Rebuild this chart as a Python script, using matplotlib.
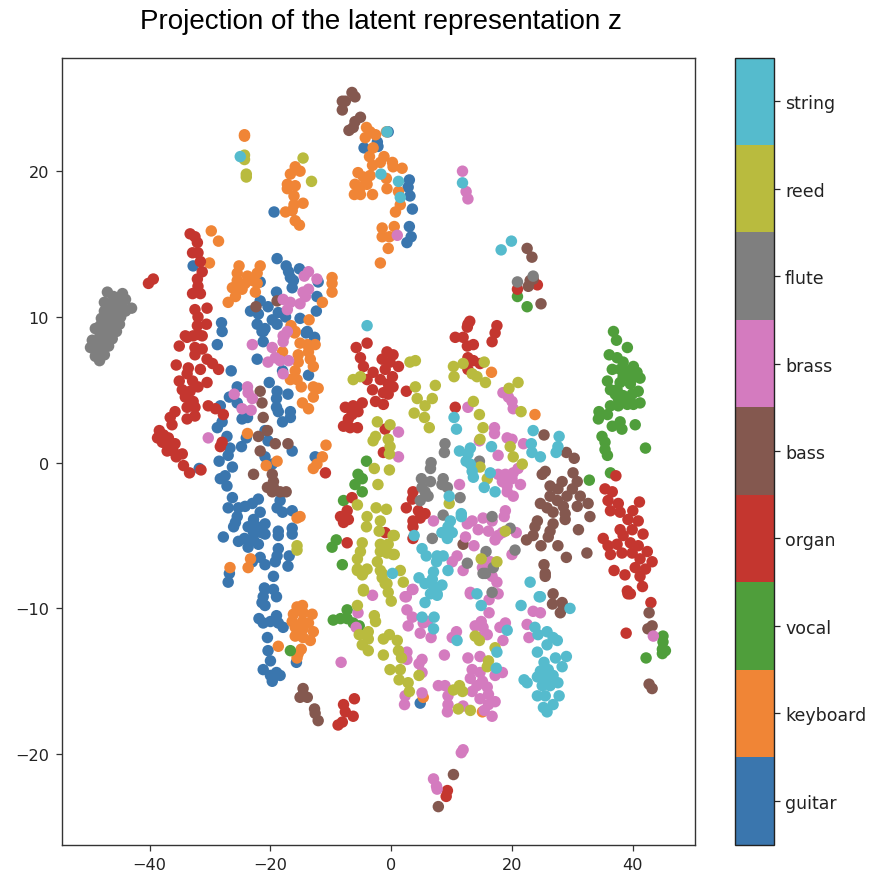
import numpy as np
import matplotlib
matplotlib.use("Agg")
import matplotlib.pyplot as plt
from matplotlib.colors import ListedColormap

instruments = ["guitar", "keyboard", "vocal", "organ", "bass", "brass", "flute", "reed", "string"]
palette = ["#3a76ae", "#f08536", "#4f9e3b", "#c4362f", "#84584f", "#d47bbf", "#7f7f7f", "#b9bb3e", "#55bbcd"]

guitar = [(-19.4,17.2),(-32.8,13.5),(-18.9,14),(-17.4,13.5),(-17,13.1),(-15.2,13.3),(-16.7,12.7),(-16.2,12.5),(-16.4,12),(-21.7,12.4),(-12.1,12.4),(-19,11.7),(-12.3,11.4),(-21.7,11.1),(-20.4,10.7),(-23.3,10.4),(-22,10.2),(-18.7,10.3),(-12.4,10.4),(-19.7,9.8),(-17.5,10),(-15.1,9.9),(-28.1,9.6),(-28,9),(-22.2,9.5),(-18.9,9.5),(-20.9,9.2),(-21.4,9),(-13.9,9),(-12.7,8.6),
(-4.5,21.6),(-2.3,22),(-2.2,21.7),(-0.5,22.7),(3,19.4),(2.8,18.9),(3.1,18.3),(3.5,17.4),(3,16.2),(3.3,15.5),(2.6,15.1),
(-28.8,8.1),(-21.2,9),(-21.2,8.3),(-14.1,8.9),(-12.7,8.5),(-22.2,7.1),(-18,6.3),(-13.7,6),(-26.5,6.3),(-20.2,5.5),(-25.5,5.2),(-18.9,4.9),(-17.1,4.7),(-26.8,4.5),(-19,4.4),(-25.5,4.1),(-28.3,3.9),(-19,3.8),(-18.7,3.5),(-16.7,3.5),(-16.7,3.1),(-18,2.8),(-24.7,3),(-23.8,3.1),(-28,2.8),(-28.8,2.4),(-20.9,2.2),(-27.2,1.8),(-24,1.7),(-20.4,1.5),(-26.7,1),(-24.8,1.1),(-27,0.5),(-16.4,0.8),(-20.9,0.4),(-28.5,0.1),(-19.7,-0.1),(-26.3,-0.3),(-12.6,0.4),(-31.8,-0.4),(-27.5,-0.9),(-28.3,-1.1),(-27.2,-1.6),(-26.3,-2.4),(-22,-2.5),(-23,-2.8),(-18.4,-2.6),(-18.9,-3.1),(-27,-3.1),(-25.3,-3.1),(-24.2,-3),(-18,-3.4),(-16.4,-3.3),(-21.7,-3.4),(-25.5,-3.7),(-25.8,-4.1),(-22.8,-3.9),(-26.1,-4.4),(-20.9,-4.2),(-23.7,-4.4),(-22.2,-4.4),(-16.4,-4.5),(-18.7,-4.7),(-22.8,-4.8),(-21.5,-4.8),(-20.9,-4.9),(-16.4,-4.9),(-18.7,-5),(-27.8,-5.1),(-25.3,-5.4),(-24.3,-5.2),(-22.8,-5.3),(-23.7,-5.8),(-22,-5.6),(-18.7,-5.9),(-18.9,-6.4),(-21.7,-6.5),(-16.9,-6.4),(-23,-6.8),(-19.2,-6.8),(-20.9,-7),(-17.1,-7.1),(-26.8,-7.6),(-19.5,-7.8),(-27,-8.2),
(-21,-8.6),(-20.9,-8.7),(-19.5,-8.7),(-19,-9.2),(-21.2,-9.2),(-21.4,-9.6),(-20.9,-9.8),(-21.9,-10.7),(-19,-10.5),(-21.2,-11),(-20,-10.9),(-18.7,-11),(-17.9,-11.3),(-20.5,-12),(-20.4,-12.9),(-20,-13.6),(-15.7,-13.7),(-21.2,-14.2),(-19,-14.4),(-20,-14.6),(-18.4,-14.6),(-19.7,-15),(4.8,-16.5)]

keyboard = [(-24.3,22.5),(-24.3,22.4),(-15.9,20.3),(-15.1,20),(-16.7,19.8),(-17.2,19.1),(-15.9,19),(-17.2,18.8),(-16.1,18.3),(-14.6,17.8),(-16.1,17.7),(-16.4,17.3),(-17.5,17.2),(-15.9,16.6),(-15.2,16.3),
(-4.1,23),(-3.5,22.7),(-4.3,22.3),(-2.6,22.5),(-0.8,22.7),(-3,21.6),(-3.6,21),(-1.2,21),(-3.1,20.4),(-1.8,20.6),(0.2,20.6),(0.3,20.3),(1.8,20.2),(-5.5,19.9),(-3.5,19.7),(-4.6,19.6),(-6,19.1),(-4,19.1),(-5.1,18.9),(-0.8,19.5),(-0.7,18.8),(-6.1,18.4),(-5.1,18.4),(-3.1,18.4),(1.2,18.6),(1.5,17.7),(0.7,17.2),(0.5,16.2),(-1.5,16.1),(-1.5,15.5),(-0.3,15.5),(-0.5,14.7),(-1.8,13.7),
(-29.8,15.9),(-28.6,15.2),(-30.1,13.7),(-25.2,13.5),(-21.7,13.5),(-25.5,13),(-22.2,13),(-23.8,12.8),(-23,12.5),(-25.5,12.5),(-24.2,12.3),(-22.2,12.3),(-26.3,12),(-24.7,11.9),(-22.5,11.7),(-25.8,11.4),(-27,11),(-9.8,12.7),(-9.8,12.3),(-9.8,11.7),(-11.4,11),(-13.6,9.8),(-16.6,9.4),(-15.9,9),
(-16,8.9),(-15.1,8.2),(-13.9,8.1),(-12.6,8.1),(-18,7.6),(-15.4,7.4),(-13.7,7.6),(-13.4,7.1),(-15.4,6.9),(-12.9,6.6),(-15.9,6.3),(-16.7,5.7),(-15.6,5.7),(-14.9,5.2),(-12.9,5.2),(-12.1,5.1),(-12.9,4.5),(-14.7,4.1),(-13.7,3.7),(-10.8,1.2),(-11.4,0.4),(-12.3,-0.1),(-12.9,-0.4),(-23.8,2),(-18.9,0.1),(-20.7,-0.2),(-15.1,-3.7),(-15.6,-3.8),(-26.7,-7.2),(-23.7,-7.2),(-23.3,-6.6),
(16.6,6.2),(23.8,3.3),
(-14.7,-9.8),(-15.6,-9.9),(-13.1,-10.4),(-16.2,-10.4),(-14.6,-10.3),(-16.4,-10.9),(-14.7,-10.9),(-13.7,-11),(-15.9,-11.3),(-14.6,-11.4),(-12.9,-11.6),(-15.9,-11.9),(-14.6,-12),(-13.4,-12.2),(-18.7,-12.6),(-14.9,-12.8),(-15.4,-13.1),(-15.6,-13.4),(5.3,-16.1),(15.1,-17.1)]

vocal = [(36.8,9),(37.3,8.4),(39.1,7.9),(36.1,7.4),(37.4,7.2),(38.4,6.9),(36.6,6.4),(37.9,6.4),(40.1,6.6),(39.2,6.3),(40.7,6.2),(38.4,5.9),(39.9,5.8),(41.2,5.8),(35.8,5.6),(37.9,5.5),(39.6,5.4),(36.3,5),(37.4,5),(40.9,4.9),(37.1,4.7),(38.4,4.6),(39.9,4.7),(37.6,4.4),(39.2,4.4),(41.2,4.1),(36.3,3.9),(37.6,3.9),(39.1,4),(40.1,4),
(34.4,3.5),(35.8,3.3),(34.3,3),(37.9,2.8),(36.6,2.5),(38.2,2.3),(40.4,2.6),(34.9,1.8),(35.4,1.4),(35.4,0.9),(35.8,0.5),(42.1,1),(36.3,-0.7),(32.8,-1.2),
(-4.1,0.1),(-5.5,-0.8),(-4.8,-1.1),(-6,-1.5),(-4.8,-2),(-7.9,-2.6),(-9.1,-5.3),(-9.8,-5.8),(-8.1,-7),
(-9.6,-10.8),(-8.4,-10.7),(-7.3,-10.1),(-7.3,-10.7),(-6.3,-11),(-5.3,-11.2),(-16.7,-12.9),
(45,-11.9),(45,-12.3),(44.9,-12.8),(45.4,-12.9),(44.9,-13.1),(42.2,-13.4),(20.9,11.4),(22.5,10.7)]

organ = [(-33.3,15.7),(-32.5,15.5),(-32.1,15.1),(-32.9,14.4),(-32,14.4),(-31.6,13.8),(-31.3,13.1),(-32.1,12.6),(-32,12.1),(-32.9,11.6),(-31.6,11.6),(-32.5,10.5),(-30.5,10.6),(-32,10),(-32.1,9.4),(-30.6,9.5),(-34.1,8.7),(-31.3,8.7),(-32.8,8.7),(-40.2,12.3),(-39.4,12.6),
(-32,8.8),(-33.8,8.6),(-35.1,8),(-32.5,7.9),(-31.3,7.8),(-32.5,7.4),(-30.5,7.1),(-29.6,6.8),(-28.6,6.4),(-35.6,6.7),(-33.6,6.5),(-31.6,6.4),(-33.8,6.1),(-35.1,5.6),(-32.9,5.6),(-30.5,5.5),(-32,5.2),(-34.6,5),(-33.3,4.9),(-34.1,4.5),(-32.8,4.2),(-33.8,3.8),(-32.5,3.8),(-30.3,3.9),(-29.1,3.7),(-35.8,3.5),(-36.6,3.1),(-33.8,3),(-32.5,3.2),(-36.3,2.6),(-27.8,3.3),(-28,1.4),(-28.3,1.1),
(-38.4,2.2),(-38.7,1.7),(-37.7,1.9),(-36.9,1.7),(-37.9,1.4),(-36.6,1.3),(-35.8,1.3),(-37.1,0.8),(-36.1,0.8),(-34.6,0.6),(-35.6,0.4),(-34.4,-0.2),(-33.4,-0.7),(-31.5,-0.5),
(-5.8,7.9),(-4,8.2),(-5.1,7.2),(-4.6,6.6),(-4,5.7),(-0.7,7.6),(0.3,7.4),(-1.5,7.1),(-0.2,6.9),(1.2,6.6),(-1,6.4),(-3,6.2),(-1.8,5.7),(0.2,5.9),(-0.5,5.4),(-3.1,5),(-1.3,4.8),(0.3,5.2),(-0.5,4.7),(-2.6,4.2),(-1.3,4),(-7.6,3.8),(-6.3,3.9),(-4.8,4.1),(-6.5,3.3),(-5.5,3.5),(-7.1,3),(-7.9,2.5),(-6.8,2.4),(-5.6,2.4),
(-1,2.3),(-1.3,0.7),(-10.9,-0.7),(-6.5,-2.4),(-7.3,-3.3),(-8.4,-3.7),(-7.1,-3.9),(-7.9,-4.1),(-7.3,-5.5),(-1,-4.8),
(12.7,9.5),(13,9.7),(12.6,9.3),(17.5,9.4),(17.2,8.9),(16.7,8.3),(10.6,8.6),(11.9,8.6),(13.6,8.1),(12.6,8),(12.7,7.2),(13.6,7),(14.7,6.8),(12.7,6.4),
(2.5,4.9),(10.6,3.8),(3.6,-2),(3.5,-2.5),(2.5,-3.1),(4.5,-3.3),(5.6,-3.5),(3.6,-4),(4.8,-3.8),(3.6,-4.4),(3.6,-5.2),
(37.2,-0.9),(35.4,-1.8),(36.6,-2),(35.9,-2.6),(37.6,-2.8),(41.1,-2.7),(36.3,-3.3),(37.9,-3.4),(40,-3.3),(39.2,-3.9),(40.9,-4),(37.9,-4.6),(39.9,-4.6),(41.7,-4.9),(35.1,-5.2),(38.4,-5),(35.9,-5.7),(37.4,-5.6),(39.6,-5.5),(40.9,-5.7),(36.3,-6.3),(38.2,-6.2),(39.9,-6.2),(42.4,-6.1),(41.2,-6.6),(43.2,-6.8),(40.4,-7.2),(42.1,-7.3),(36.9,-7.4),(38.7,-7.7),(41.2,-7.8),(41.6,-8.5),(39.1,-8.8),(39.6,-9),
(43,-9.6),(38.9,-11.7),(39.2,-9),(-6.1,-16.2),(-7.9,-16.6),(-7.6,-17.1),(-6.3,-17.4),(-8.1,-17.8),(-8.8,-18),(9.3,-22.5),(9.1,-22.9),(20.9,11.9),(24.2,12.2)]

bass = [(-6.5,25.4),(-6,25.1),(-8.1,24.8),(-7.6,24.8),(-8.1,24.2),(-5.1,23.7),(-6,23.4),(-7,22.8),(-6.3,23),(-18.9,11.1),(-22.4,10.7),
(-21.7,4.9),(-21.4,4.1),(-21.2,3.1),(-20.5,2.2),(-22,1.8),(-19.2,1.3),(-17.1,1.3),(-21.7,0.8),(-22.8,-0.8),(-19.7,-0.8),(-19.5,-1.3),(-20.5,-1.7),(-19.5,-1.7),(-19.7,-2),(-18.4,-2),(-17.4,-2),
(-14.6,-15.5),(-15.1,-16.1),(-13.9,-16.1),(-14.6,-15.9),(-12.7,-16.9),(-12.6,-17.2),(-12.1,-17.7),
(22.5,14.7),(23.3,14.1),(23,12.5),(23.5,12.6),(22.7,12.1),(24.8,10.9),
(25.3,1.9),(29,0.7),(30.3,0.3),(30.1,-0.7),(25.5,-0.6),(25,-0.8),(28.3,-1.3),(26.3,-1.6),(30.8,-1.3),(27.6,-1.8),(30,-1.8),(26.3,-2.3),(29.1,-2.3),(31.3,-2.3),(27.5,-2.6),(24.7,-2.8),(25.8,-3.1),(28.5,-3),(30.8,-3),(32.6,-2.8),(26.8,-3.4),(28.8,-3.5),(32.9,-3.7),(24.2,-4),(26.8,-4.2),(28.8,-3.9),(23.8,-4.4),(26.3,-4.7),(31,-4.6),(23.5,-5),(26,-5.1),(22.4,-5.3),(24.8,-5.7),(27.6,-5.7),(32.4,-6.2),(29,-6.5),(25.3,-7),(25.5,-7.8),(11.9,-5.6),
(25.5,-7.6),(26.8,-9),(26.7,-9.7),(28.3,-9.6),(28.5,-9.9),(28,-10.3),(42.7,-10.3),(43.2,-11.2),(42.5,-11.4),(42.7,-15.2),(43.2,-15.5),(10.3,-21.4),(7.8,-23.6)]

brass = [(-13.7,13.1),(-14.4,12.8),(-12.3,12.6),(-13.7,11.9),(-14.6,11.7),(-14.2,11.4),(-17.9,11.2),(-16.7,11),(-15.1,10.9),(-17.2,10.5),(-17.2,9),(-17.7,8.7),
(-23,8.1),(-19.7,7.9),(-17.9,8.7),(-17.9,8.3),(-19.2,7.2),(-20.4,6.9),(-18.4,7),(-17,7),(-17.9,6.1),(-23.8,5.2),(-26,4.7),(-23.7,4.8),(-23,4.4),(-24.7,3.7),(-23.2,3.6),(-30.3,1.7),
(11.8,20),(12.4,18.6),(12.7,18.1),(1,15.6),(1.2,2.1),(1.2,0.4),(12.7,3.8),(18.5,4.8),(19.4,4.5),(20,4.2),(20.2,3.7),
(17.1,2.4),(17.1,2),(14.6,1.5),(19.2,1.7),(20,1.6),(21.9,1.3),(17.7,0.5),(21,-0.4),(20.2,-0.7),(18.9,-0.8),(17.7,-0.8),(18.4,-1.3),(20,-1.1),(21.4,-1.5),(19.2,-1.6),(19.2,-2),(20.2,-2.3),(11.3,-1.5),
(7,-4),(18.9,-3.3),(18.7,-3.7),(15.2,-3.8),(16.7,-4),(13.4,-4),(12.6,-4.2),(14.4,-4.6),(16.1,-4.7),(18.4,-4.8),(20.7,-4.8),(17.7,-5),(17.2,-5.3),(12.3,-5.1),(13.7,-5.7),(20,-6.3),(10.9,-6.4),(10.1,-6.8),(16.4,-6.8),(15.1,-7.2),(11.9,-7.4),(16.7,-7.8),(17.5,-8.2),(3.5,-8.7),(2.3,-9.2),(13.1,-8.9),(17.7,-9),
(-3.1,-9.1),(3.6,-8.7),(2.5,-9.2),(-5.5,-10.3),(-5.8,-11.3),(2.6,-10.1),(3.5,-10.6),(2.8,-11.2),(6,-10.9),(4.8,-11.7),(6.6,-12),(5.3,-11),(2.6,-13),(2.6,-13.5),(-8.3,-13.7),(5.1,-13.5),(4.6,-13.8),(5.1,-14.4),(8.8,-13.2),(7.8,-15.3),(8.9,-15.3),(5.1,-15.8),(2.3,-16),(2.2,-16.6),(9.4,-16),(9.3,-17.1),(10.1,-12),
(13.1,-9),(16.2,-9.4),(16.2,-10.3),(23.5,-10.2),(24.7,-10.3),(22.5,-11.1),(22.8,-12),(14.9,-10.9),(13.9,-11.2),(15.2,-11.3),(18.9,-11),(18,-11.3),(15.9,-11.8),(14.6,-12),(10.8,-11.6),(18.5,-12.2),(12.7,-13.4),(14.7,-13.3),(13.4,-14.2),(14.7,-14.4),(13.1,-14.8),(18.4,-14.4),(17.2,-14.6),(15.1,-15),(14.2,-15.3),(15.9,-15.4),(13.4,-15.7),(16.1,-15.9),(14.7,-16.2),(17.2,-16.4),(16.1,-16.6),(9.4,-16.6),(11.9,-16.7),(15.4,-17),(16.7,-17.4),(11.9,-19.7),(11.6,-19.9),(7,-21.7),(7.5,-22.2),(7.6,-22.4),(43.4,-11.9)]

flute = [(-47,11.7),(-46,11.4),(-45,11.2),(-44.5,11.6),(-44,11.2),(-47.5,11),(-46.5,10.9),(-45.5,10.8),(-44.5,10.7),(-43,10.6),(-44,10.4),(-47.5,10.4),(-46.5,10.3),(-45.5,10.2),(-44.8,10),(-48,9.9),(-47,9.8),(-46,9.7),(-45,9.5),(-48.2,9.4),(-47.2,9.3),(-46.2,9.2),(-45.5,9),(-49,9.2),(-48.2,8.8),(-47.2,8.7),(-46.2,8.5),(-49.5,8.4),(-48.5,8.3),(-47.5,8.1),(-46.8,8),(-49.8,7.9),(-49,7.7),(-48,7.6),(-47.5,7.4),(-49,7.3),(-48.3,7),(-48.5,7.2),
(8.9,1.3),(8.8,0.7),(6.6,0),(6.5,-0.4),(5,-1.1),(6.5,-1.3),(5.1,-1.7),(5.6,-2),(4.8,-2.6),(6.1,-2.3),(8.6,-1.1),(8.4,-1.5),(9.3,-1.7),(11.4,-2.4),(8.6,-3.6),(6.8,-5.2),(19.7,-4.5),(20.5,-6),(15.7,-6.1),(12.6,-6.9),(16.9,-7.2),(15.6,-7.6),(14.6,0.1),(16.7,-3.7),(20.9,12.4),(23.5,12.8),(15.2,-7.6),(16.7,-8.9)]

reed = [(-24.3,21.1),(-24.3,20.8),(-24,19.8),(-24,19.6),(-14.6,20.9),(-13.2,19.3),
(-6.3,5.7),(-5.1,5.9),(-2.3,2.8),(-0.2,2.6),(-2.6,1.8),(-0.5,1.6),(-3,1.5),(-0.2,1.1),(-0.3,0.6),(-2.8,-0.4),(-0.3,-0.5),(-2.2,-1.5),(-5.6,-2.9),(-2.5,-3.1),(-0.8,-3.2),(-4,-3.7),(-1.8,-4),(-4.1,-4.4),(-2,-4.7),(0.3,-5),(-15.6,-5.7),(-15.6,-6),(-4.8,-5.5),(-1.8,-5.6),(-0.5,-5.6),(-5.1,-6.1),(-1.8,-6.1),(-0.7,-6.2),(0.3,-6.3),(-5.6,-6.6),(-2.3,-6.8),(-5.6,-7.3),(-4,-7.3),(-1.8,-7.4),(-4.8,-7.7),(-1.5,-7.9),(-1,-8.3),(-4.6,-8.7),
(4,7),(3.1,6.9),(10.3,6.6),(11.9,6.8),(10.4,5.9),(13.4,6.1),(15.4,6.9),(14.2,5.9),(15.6,5.5),(13.6,4.2),(19.5,5.1),(21,5.5),(4,5.2),(7.3,5.3),(4.3,4.4),(6.8,4.4),(5.6,3.9),(3.8,3.4),(5.5,3.1),(6.3,2.4),(14.6,3.3),(21.5,3.5),(15.2,2.4),(14.7,1.6),(19.7,1.1),(20.2,0.4),(21.7,-0.1),(14.7,-0.3),(15.9,-1.1),(9.6,-2.8),(0.5,-5),(0.5,-6.3),(1.5,-7.4),(2,-8.2),(18.9,-4.7),(14.9,-6.6),(17.5,-6.8),
(-5.6,-7.4),(-4.6,-7.5),(-1.5,-7.6),(-0.7,-8.3),(-4.6,-8.8),(-0.5,-8.9),(0,-9.5),(-5.6,-9.8),(-2.8,-10.5),(-2.6,-10.9),(-3.8,-11.6),(-5.3,-11.8),(-3.8,-12.1),(-4.8,-12.5),(-3.8,-12.9),(-1.3,-13.2),(-0.3,-11.8),(-1.3,-12.1),(1,-12.2),(1.2,-12.9),(1.7,-13.4),(-0.2,-14.2),(1.5,-14.2),(1.3,-14.9),(2.8,-15.1),(3,-15.7),(4.6,-14.6),
(17.2,-12.7),(16.1,-13.6),(15.9,-14),(11.3,-15.3),(10.3,-15.6),(11.8,-15.7),(11.1,-16.9),(13.1,-17),(13.9,-11.9),(14.6,-12.2)]

string = [(-25,21),(-0.7,22.7),(-1.7,19.8),(1.2,19.3),(1.5,18.2),(11.8,19.2),(18.2,14.6),(19.9,15.2),(-4,9.4),
(10.4,3.1),(10.8,2.3),(23.5,2.2),(27.8,1.8),(27.6,1.1),(27.3,0.7),(23.2,1.3),(23.3,0.7),(24.7,0.4),(16.6,1.1),(13.1,1),(11.3,0.8),(12.7,0.6),(12.4,0.1),(13.1,-0.1),(13.4,-0.6),(13.6,-1),(16.4,-0.7),(15.4,-1.7),(17.2,-2),(9.6,-2.3),(11.6,-3.5),(11.6,-3.7),(9.8,-4),(9.4,-4.4),(8.4,-4.8),(10.1,-4.8),(9.3,-5.2),(3.8,-5),(5.1,-5.9),(5.8,-6.4),(7.6,-6.4),(8.6,-6.4),(7.5,-6.8),(9.4,-7.4),(7,-7.5),(4.6,-7.9),(6.8,-8),(5.6,-8.3),(7,-8.5),(8.4,-8.4),(6.5,-9),(7.6,-9),(23,-8.2),(24.7,-9.2),(0.2,-7.6),
(24.5,-9.2),(21.5,-9.8),(29.6,-10),(14.2,-9),(14.9,-9.8),(7.1,-10.6),(5.1,-10.6),(7,-11.4),(19.2,-11.5),(10.9,-12.2),(17.5,-13),(17.4,-14.1),(23.8,-11.3),(24.3,-11.8),(25.8,-11.6),(26.8,-12),(27.5,-12.2),(25.8,-12.5),(24.2,-13),(25.3,-13.7),(27.2,-13.4),(29,-13.3),(28.3,-14),(24.7,-14.3),(26,-14.2),(24.2,-14.7),(25.5,-14.7),(26.8,-14.6),(27.6,-15.1),(22,-14.9),(22.5,-15.1),(25,-15.3),(26.3,-15.3),(24.2,-16),(25.5,-16),(27.8,-16),(26.8,-16.6),(25.2,-16.8),(25.8,-17.1),(5.6,-9.6),(7.6,-9.1)]

groups = [guitar, keyboard, vocal, organ, bass, brass, flute, reed, string]
xs = np.concatenate([[p[0] for p in g] for g in groups])
ys = np.concatenate([[p[1] for p in g] for g in groups])
codes = np.concatenate([[i] * len(g) for i, g in enumerate(groups)])

W, H = 871, 879
fig = plt.figure(figsize=(W / 100, H / 100), dpi=100)
ax = fig.add_axes([61.5 / W, 1 - 845.5 / H, (695 - 61.5) / W, (845.5 - 58.5) / H])
cax = fig.add_axes([735 / W, 1 - 845.5 / H, (774 - 735) / W, (845.5 - 58.5) / H])

cmap = ListedColormap(palette)
sc = ax.scatter(xs, ys, c=codes, cmap=cmap, vmin=-0.5, vmax=8.5, s=68, linewidths=0)
ax.set_xlim(-54.6, 50.3)
ax.set_ylim(-26.2, 27.8)
ax.set_xticks([-40, -20, 0, 20, 40])
ax.set_yticks([-20, -10, 0, 10, 20])
ax.tick_params(length=4.5, width=0.9, pad=4.5, labelsize=11.6, color="#333333", labelcolor="#222222")
for side in ax.spines.values():
    side.set_color("#333333")
    side.set_linewidth(1.0)

cb = fig.colorbar(sc, cax=cax, ticks=range(9))
cb.ax.set_yticklabels(instruments)
cb.ax.tick_params(length=4.5, width=0.9, pad=3.5, labelsize=12.5, color="#222222", labelcolor="#222222")
cb.outline.set_edgecolor("#222222")
cb.outline.set_linewidth(1.0)

fig.text(381 / W, 1 - 22 / H, "Projection of the latent representation z",
         ha="center", va="center", fontsize=20, family="Liberation Sans")
fig.savefig("out.png", dpi=100)
